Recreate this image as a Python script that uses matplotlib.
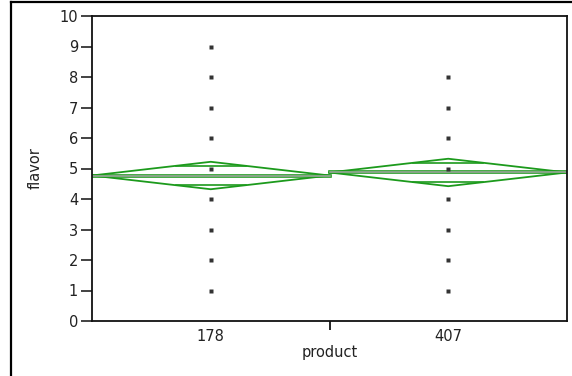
import numpy as np
import matplotlib
matplotlib.use("Agg")
import matplotlib.pyplot as plt
from matplotlib.lines import Line2D

# datos
productos = ["178", "407"]
flavor_178 = [1, 2, 3, 4, 5, 6, 7, 8, 9]
flavor_407 = [1, 2, 3, 4, 5, 6, 7, 8]
medias = [4.77, 4.87]
ic_mitad = [0.45, 0.45]   # semi-ancho del intervalo de confianza

verde = "#1c9a1c"
gris = "#a8a8a8"

fig = plt.figure(figsize=(5.72, 3.76), dpi=100)
ax = fig.add_axes([92 / 572, 55 / 376, 475 / 572, 305 / 376])

# puntos
for i, valores in enumerate([flavor_178, flavor_407]):
    ax.plot([i] * len(valores), valores, linestyle="none", marker="s",
            ms=2.3, color="#333333", mec="none", zorder=3)

# diamantes de medias
w = 0.5
for i, (m, h) in enumerate(zip(medias, ic_mitad)):
    xs = [i - w, i, i + w, i, i - w]
    ys = [m, m + h, m, m - h, m]
    ax.plot(xs, ys, color=verde, lw=1.3, zorder=2)
    # linea de la media
    ax.plot([i - w, i + w], [m, m], color=verde, lw=2.6, zorder=2)
    ax.plot([i - w, i + w], [m, m], color=gris, lw=1.1, zorder=2.5)
    # marcas de solapamiento
    d = h / np.sqrt(2)
    dx = w * (1 - 1 / np.sqrt(2))
    ax.plot([i - dx, i + dx], [m + d, m + d], color=verde, lw=1.2, zorder=2)
    ax.plot([i - dx, i + dx], [m - d, m - d], color=verde, lw=1.2, zorder=2)

ax.set_xlim(-0.5, 1.5)
ax.set_ylim(0, 10)
ax.set_yticks(range(0, 11))
ax.tick_params(axis="y", direction="out", length=8, width=1.2, labelsize=10.5,
               pad=2, colors="#222222")
ax.set_xticks([0.5])
ax.set_xticklabels([""])
ax.tick_params(axis="x", direction="out", length=6.5, width=1.2)
for i, p in enumerate(productos):
    ax.text(i, -0.25, p, ha="center", va="top", fontsize=10.5, color="#222222")

for s in ax.spines.values():
    s.set_linewidth(1.3)
    s.set_color("#111111")

ax.set_ylabel("flavor", fontsize=10.5, labelpad=12, color="#222222")
fig.text(330 / 572, 1 - 353 / 376, "product", ha="center", va="center",
         fontsize=10.5, color="#222222")

# marco exterior
fig.add_artist(Line2D([11 / 572, 1], [1 - 1.5 / 376] * 2, color="black", lw=1.6,
                      transform=fig.transFigure))
fig.add_artist(Line2D([11 / 572] * 2, [0, 1 - 1.5 / 376], color="black", lw=1.6,
                      transform=fig.transFigure))

fig.savefig("out.png", dpi=100)
